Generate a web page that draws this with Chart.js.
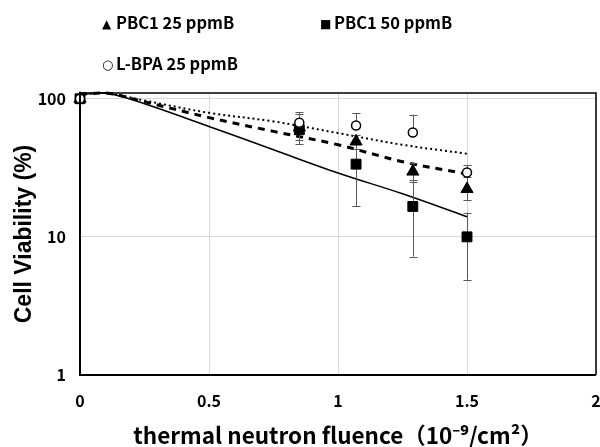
<!DOCTYPE html>
<html>
<head>
<meta charset="utf-8">
<script src="https://cdn.jsdelivr.net/npm/chart.js@4.4.1/dist/chart.umd.min.js"></script>
<style>
  html, body { margin: 0; padding: 0; background: #fff; }
  #wrap { position: relative; width: 600px; height: 447px; overflow: hidden; }
  canvas { position: absolute; left: 0; top: 0; }
  .leg { position: absolute; font-family: "Noto Sans CJK JP", "Noto Sans", sans-serif; font-weight: bold; font-size: 16.5px; color: #000; white-space: nowrap; line-height: 20px; }
  .sym { font-family: "DejaVu Sans", sans-serif; font-size: 12px; font-weight: normal; display: inline-block; width: 14px; vertical-align: 1px; }
</style>
</head>
<body>
<div id="wrap">
  <canvas id="c" width="600" height="447"></canvas>
  <div class="leg" style="left:102px; top:12px;"><span class="sym">▲</span>PBC1 25 ppmB</div>
  <div class="leg" style="left:320px; top:12px;"><span class="sym">■</span>PBC1 50 ppmB</div>
  <div class="leg" style="left:102px; top:53px;"><span class="sym" style="font-size:13px;">○</span>L-BPA 25 ppmB</div>
</div>
<script>
// ---- data ----
const doseX = [0, 0.85, 1.07, 1.29, 1.5];
const pbc25 = [100, 62, 49, 29.7, 22.2];
const pbc25Plus = [0, 15, 6, 4.7, 5];
const pbc25Minus = [0, 15, 6, 4.7, 3.7];
const pbc50 = [100, 59.6, 33.6, 16.6, 10.0];
const pbc50Plus = [0, 9, 17, 9.4, 5];
const pbc50Minus = [0, 9, 17, 9.4, 5.1];
const lbpa = [100, 67, 64, 57, 29.2];
const lbpaPlus = [0, 12.6, 14.7, 19.6, 4];
const lbpaMinus = [0, 0, 0, 0, 0];

const fitX = [0, 0.1, 0.25, 0.5, 0.75, 1.0, 1.25, 1.5];
const fitPbc50 = [108, 110, 92, 63, 42.7, 29, 20.5, 14];
const fitPbc25 = [108, 110, 95, 73, 58, 46.4, 35, 28.5];
const fitLbpa = [108, 110, 97, 79, 68.5, 56.4, 46.4, 40];

const xTicks = [0, 0.5, 1, 1.5, 2];
const yTicks = [1, 10, 100];

const pts = (xs, ys) => xs.map((x, i) => ({ x: x, y: ys[i] }));

const errorSets = [
  { ys: pbc25, plus: pbc25Plus, minus: pbc25Minus },
  { ys: pbc50, plus: pbc50Plus, minus: pbc50Minus },
  { ys: lbpa, plus: lbpaPlus, minus: lbpaMinus }
];

const errorBars = {
  id: 'errorBars',
  beforeDatasetsDraw(chart) { chart.$errDone = false; },
  beforeDatasetDraw(chart, args) {
    if (chart.$errDone) return;
    if (!chart.data.datasets[args.index].isMarker) return;
    chart.$errDone = true;
    const xs = chart.scales.x, ys = chart.scales.y, ctx = chart.ctx;
    ctx.save();
    ctx.strokeStyle = '#595959';
    ctx.lineWidth = 1;
    errorSets.forEach(s => {
      doseX.forEach((x, i) => {
        const px = Math.round(xs.getPixelForValue(x)) + 0.5;
        const top = ys.getPixelForValue(s.ys[i] + s.plus[i]);
        const bot = ys.getPixelForValue(s.ys[i] - s.minus[i]);
        const mid = ys.getPixelForValue(s.ys[i]);
        ctx.beginPath();
        if (s.plus[i] > 0) {
          ctx.moveTo(px, mid); ctx.lineTo(px, top);
          ctx.moveTo(px - 4, Math.round(top) + 0.5); ctx.lineTo(px + 4, Math.round(top) + 0.5);
        }
        if (s.minus[i] > 0) {
          ctx.moveTo(px, mid); ctx.lineTo(px, bot);
          ctx.moveTo(px - 4, Math.round(bot) + 0.5); ctx.lineTo(px + 4, Math.round(bot) + 0.5);
        }
        ctx.stroke();
      });
    });
    ctx.restore();
  }
};

const frame = {
  id: 'frame',
  afterDraw(chart) {
    const a = chart.chartArea, ctx = chart.ctx;
    ctx.save();
    ctx.strokeStyle = '#000';
    ctx.lineWidth = 1.5;
    ctx.beginPath();
    ctx.moveTo(a.left, a.top); ctx.lineTo(a.right, a.top); ctx.lineTo(a.right, a.bottom);
    ctx.stroke();
    ctx.lineWidth = 2;
    ctx.beginPath();
    ctx.moveTo(a.left, a.top); ctx.lineTo(a.left, a.bottom); ctx.lineTo(a.right, a.bottom);
    ctx.stroke();
    ctx.restore();
  }
};

const tickFont = { family: '"Noto Sans CJK JP", "Noto Sans", sans-serif', weight: 'bold', size: 16 };

new Chart(document.getElementById('c'), {
  type: 'scatter',
  data: {
    datasets: [
      { data: pts(fitX, fitPbc50), showLine: true, borderColor: '#000', borderWidth: 1.5, pointRadius: 0, tension: 0.35, order: 4, fill: false },
      { data: pts(fitX, fitPbc25), showLine: true, borderColor: '#000', borderWidth: 3, borderDash: [7, 6], pointRadius: 0, tension: 0.35, order: 4, fill: false },
      { data: pts(fitX, fitLbpa), showLine: true, borderColor: '#000', borderWidth: 2, borderDash: [2, 3], pointRadius: 0, tension: 0.35, order: 4, fill: false },
      { data: pts(doseX, pbc25), isMarker: true, pointStyle: 'triangle', pointRadius: 7, backgroundColor: '#000', borderColor: '#000', borderWidth: 1, order: 3 },
      { data: pts(doseX, pbc50), isMarker: true, pointStyle: 'rect', pointRadius: 7, backgroundColor: '#000', borderColor: '#000', borderWidth: 1, order: 2 },
      { data: pts(doseX, lbpa), isMarker: true, pointStyle: 'circle', pointRadius: 4.5, backgroundColor: '#fff', borderColor: '#000', borderWidth: 1.5, order: 1 }
    ]
  },
  options: {
    responsive: false,
    animation: false,
    clip: false,
    layout: { autoPadding: false, padding: { top: 93, right: 4, left: 0, bottom: 0 } },
    plugins: { legend: { display: false }, tooltip: { enabled: false } },
    scales: {
      x: {
        type: 'linear', min: 0, max: 2,
        afterFit(s) { s.height = 72; s.paddingLeft = 0; s.paddingRight = 0; },
        afterBuildTicks(s) { s.ticks = xTicks.map(v => ({ value: v })); },
        grid: { color: '#d9d9d9', lineWidth: 1, drawTicks: false },
        border: { display: false },
        ticks: { font: tickFont, color: '#000', padding: 16, maxRotation: 0, callback: v => String(v) },
        title: { display: true, text: 'thermal neutron fluence（10⁻⁹/cm²）', color: '#000',
                 font: { family: '"Noto Sans CJK JP", "Noto Sans", sans-serif', weight: 'bold', size: 22.5, lineHeight: 1.0 }, padding: { top: 0, bottom: 0 } }
      },
      y: {
        type: 'logarithmic', min: 1, max: 110,
        afterFit(s) { s.width = 80; s.paddingTop = 0; s.paddingBottom = 0; },
        afterBuildTicks(s) { s.ticks = yTicks.map(v => ({ value: v, major: true })); },
        grid: { color: '#d9d9d9', lineWidth: 1, drawTicks: false },
        border: { display: false },
        ticks: { font: tickFont, color: '#000', padding: 14, callback: v => String(v) },
        title: { display: true, text: 'Cell Viability (%)', color: '#000',
                 font: { family: '"Liberation Sans", "Noto Sans CJK JP", sans-serif', weight: 'bold', size: 23, lineHeight: 1.1 }, padding: { top: 12, bottom: 0 } }
      }
    }
  },
  plugins: [errorBars, frame]
});
</script>
</body>
</html>
